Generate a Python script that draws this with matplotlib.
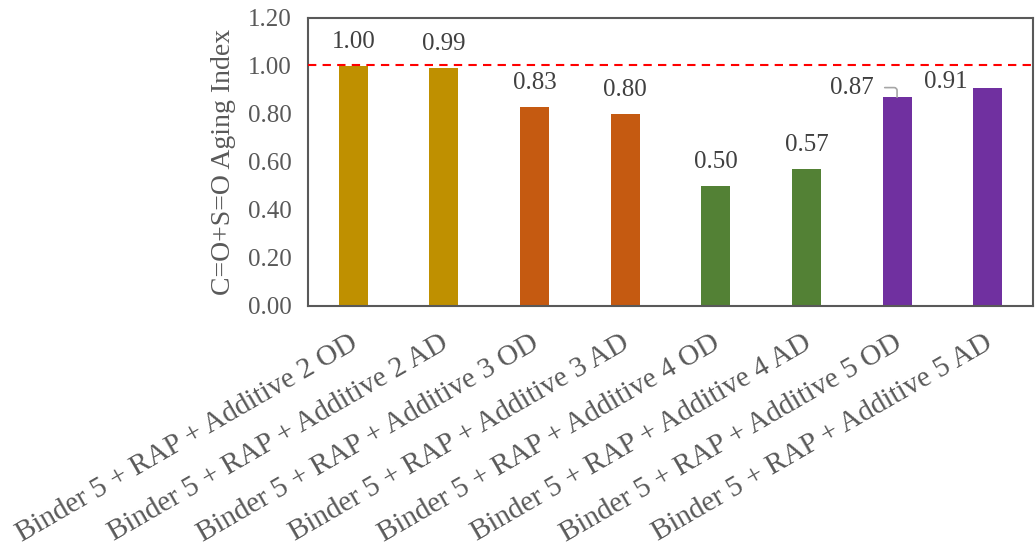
import matplotlib
matplotlib.use("Agg")
import matplotlib.pyplot as plt
from matplotlib.transforms import ScaledTranslation

categories = [
    "Binder 5 + RAP + Additive 2 OD",
    "Binder 5 + RAP + Additive 2 AD",
    "Binder 5 + RAP + Additive 3 OD",
    "Binder 5 + RAP + Additive 3 AD",
    "Binder 5 + RAP + Additive 4 OD",
    "Binder 5 + RAP + Additive 4 AD",
    "Binder 5 + RAP + Additive 5 OD",
    "Binder 5 + RAP + Additive 5 AD",
]
values = [1.00, 0.99, 0.83, 0.80, 0.50, 0.57, 0.87, 0.91]
colors = ["#BF9000", "#BF9000", "#C55A11", "#C55A11",
          "#538135", "#538135", "#7030A0", "#7030A0"]
reference_level = 1.005
yticks = [0.0, 0.2, 0.4, 0.6, 0.8, 1.0, 1.2]

plt.rcParams['font.family'] = ['Liberation Serif', 'DejaVu Serif']
gray = "#595959"

fig = plt.figure(figsize=(10.36, 5.48), dpi=100)
ax = fig.add_axes([308/1036, 1-306/548, 725/1036, 288/548])

x = list(range(len(categories)))
ax.bar(x, values, width=0.32, color=colors, zorder=2)
ax.set_xlim(-0.5, len(categories)-0.5)
ax.set_ylim(0, 1.2)
ax.set_yticks(yticks)
ax.set_yticklabels([f"{v:.2f}" for v in yticks], fontsize=18, color=gray)
ax.tick_params(axis='y', length=0, pad=12)
ax.tick_params(axis='x', length=0, pad=17)
ax.set_xticks(x)
ax.set_xticklabels(categories, rotation=30, ha='right', va='top',
                   rotation_mode='anchor', fontsize=21, color=gray)
shift = ScaledTranslation(-4/100, 0, fig.dpi_scale_trans)
for lbl in ax.get_xticklabels():
    lbl.set_transform(lbl.get_transform() + shift)
for s in ax.spines.values():
    s.set_color(gray)
    s.set_linewidth(1.5)

ax.axhline(reference_level, color="#FF0000", linestyle=(0, (4, 3)), linewidth=1.5, zorder=3)
ax.set_ylabel("C=O+S=O Aging Index", fontsize=20, color=gray, labelpad=8)

for i, v in enumerate(values):
    if i == 6:
        ax.annotate(f"{v:.2f}", xy=(i, v), xytext=(i - 0.5, v + 0.04),
                    ha='center', va='center', fontsize=18, color="#404040",
                    arrowprops=dict(arrowstyle='-', color='#A6A6A6', lw=1.2,
                                    connectionstyle='angle,angleA=0,angleB=90,rad=3',
                                    shrinkA=6, shrinkB=0))
    elif i == 7:
        ax.text(i - 0.46, v + 0.022, f"{v:.2f}", ha='center', va='center',
                fontsize=18, color="#404040")
    else:
        ax.text(i, v + 0.1, f"{v:.2f}", ha='center', va='center',
                fontsize=18, color="#404040")

fig.savefig("out.png", dpi=100)
